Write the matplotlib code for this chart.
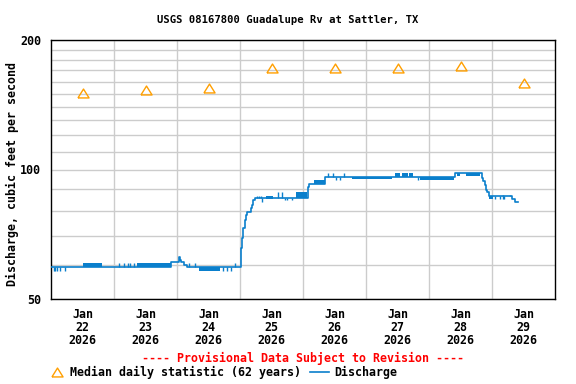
import matplotlib
matplotlib.use('Agg')
import numpy as np
import matplotlib.pyplot as plt
from matplotlib.ticker import FixedLocator, FixedFormatter, NullFormatter
from matplotlib.lines import Line2D

# ---------------- data ----------------
title = "USGS 08167800 Guadalupe Rv at Sattler, TX"
ylabel = "Discharge, cubic feet per second"
day_label_hours = [12, 36, 60, 84, 108, 132, 156, 180]
day_labels = ["Jan\n22\n2026", "Jan\n23\n2026", "Jan\n24\n2026", "Jan\n25\n2026",
              "Jan\n26\n2026", "Jan\n27\n2026", "Jan\n28\n2026", "Jan\n29\n2026"]
midnight_hours = [24, 48, 72, 96, 120, 144, 168]
y_major = [50, 100, 200]
y_minor = [60, 70, 80, 90, 110, 120, 130, 140, 150, 160, 170, 180, 190]

# median daily statistic (hours since Jan 22 00:00)
median_hours = [12, 36, 60, 84, 108, 132, 156, 180]
median_values = [150.8, 153.0, 154.5, 172.6, 172.6, 172.6, 173.6, 159.0]

# discharge: step breakpoints (hours since Jan 22 00:00, cfs)
q_hours = [0.0, 45.75, 48.75, 49.0, 49.5, 50.5, 51.75, 72.5, 72.75, 73.25, 73.75,
           74.25, 74.75, 76.0, 76.5, 77.0, 77.75, 97.75, 98.25, 100.0, 104.5,
           154.0, 164.25, 164.75, 165.25, 165.75, 166.25, 166.75, 175.5, 176.75, 178.0]
q_values = [59.3, 60.9, 62.7, 61.6, 60.9, 60.1, 59.3, 65.6, 69.2, 73.0, 76.3,
            78.4, 79.5, 81.3, 82.7, 84.9, 86.0, 90.9, 92.4, 92.7, 96.3,
            98.0, 95.8, 94.2, 91.9, 89.4, 88.7, 86.6, 85.3, 84.2, 84.2]

# single 15-minute excursions
spike_hours = [1.0, 1.5, 2.25, 3.25, 5.25,
               26.0, 27.75, 29.5, 30.25, 31.5,
               52.75, 55.0, 65.5, 67.0, 68.75, 70.25,
               78.5, 79.25, 80.0, 80.5, 86.5, 88.0, 89.0, 89.75, 91.75,
               105.5, 107.25, 111.5, 108.75, 110.0, 139.75,
               169.25, 171.0, 172.25, 172.75, 172.0, 175.0]
spike_values = [58.0, 58.0, 58.0, 58.0, 58.0,
                60.5, 60.5, 60.5, 60.5, 60.5,
                60.5, 60.5, 58.0, 58.0, 58.0, 60.5,
                87.0, 87.0, 87.0, 84.2, 88.5, 88.5, 84.9, 84.9, 84.9,
                98.0, 98.0, 98.0, 94.5, 94.5, 94.5,
                85.3, 85.3, 85.3, 85.3, 87.2, 87.2]

# periods where the 15-minute values flicker between two readings
band_start = [12.0, 32.75, 56.5, 82.0, 93.5, 100.0, 114.5, 131.0, 133.75, 136.5,
              140.75, 154.5, 158.0, 167.0]
band_end = [19.25, 45.75, 64.5, 84.5, 97.5, 104.5, 129.75, 133.0, 136.0, 138.0,
            153.5, 155.75, 163.5, 168.25]
band_low = [59.3, 59.3, 58.0, 85.3, 86.0, 92.7, 94.8, 96.3, 96.3, 96.3,
            94.5, 96.8, 96.8, 85.3]
band_high = [60.5, 60.5, 59.3, 87.0, 88.5, 94.5, 96.3, 98.0, 98.0, 98.0,
             96.3, 98.0, 98.0, 86.6]

# ---------------- style ----------------
blue = '#0a7fcc'
orange = '#ff9f00'
grid_c = '#cccccc'
font = 'DejaVu Sans Mono'
fs = 8.4

fig = plt.figure(figsize=(5.76, 3.84), dpi=100)
ax = fig.add_axes([51 / 576, 1 - 299 / 384, 504 / 576, 259 / 384])
ax.set_yscale('log')
ax.set_xlim(0, 192)
ax.set_ylim(50, 200)

# grid
ax.yaxis.set_major_locator(FixedLocator(y_major))
ax.yaxis.set_major_formatter(FixedFormatter([str(v) for v in y_major]))
ax.yaxis.set_minor_locator(FixedLocator(y_minor))
ax.yaxis.set_minor_formatter(NullFormatter())
ax.xaxis.set_major_locator(FixedLocator(day_label_hours))
ax.xaxis.set_major_formatter(FixedFormatter(day_labels))
ax.xaxis.set_minor_locator(FixedLocator(midnight_hours))
ax.grid(True, axis='y', which='both', color=grid_c, lw=1.0)
ax.grid(True, axis='x', which='minor', color=grid_c, lw=1.0)
ax.grid(False, axis='x', which='major')
ax.set_axisbelow(True)
ax.tick_params(which='both', length=0)
ax.tick_params(axis='x', pad=6.2)
ax.tick_params(axis='y', pad=7)
for lbl in ax.get_xticklabels() + ax.get_yticklabels():
    lbl.set_fontfamily(font)
    lbl.set_fontweight('bold')
    lbl.set_fontsize(fs)
    lbl.set_linespacing(1.0)
for sp in ax.spines.values():
    sp.set_color('black')
    sp.set_linewidth(1.0)

# discharge
qh = np.array(q_hours)
qv = np.array(q_values)
ax.step(qh, qv, where='post', color=blue, lw=1.2, zorder=3)
for h0, h1, lo, hi in zip(band_start, band_end, band_low, band_high):
    ax.fill_between([h0, h1], [lo, lo], [hi, hi], color=blue, lw=0, zorder=3)
idx = np.searchsorted(qh, np.array(spike_hours), side='right') - 1
spike_base = qv[idx]
ax.vlines(spike_hours, spike_base, spike_values, color=blue, lw=1.0, zorder=3)

# median statistic
tri = [(-1, -0.8), (1, -0.8), (0, 0.8), (-1, -0.8)]
ax.plot(median_hours, median_values, linestyle='none', marker=tri, markersize=8,
        markerfacecolor='none', markeredgecolor=orange, markeredgewidth=1.0, zorder=4)

# texts
fig.text(0.5, 1 - 20 / 384, title, ha='center', va='center', fontfamily=font,
         fontweight='bold', fontsize=7.6)
fig.text(12 / 576, 1 - 174 / 384, ylabel, ha='center', va='center', rotation=90,
         fontfamily=font, fontweight='bold', fontsize=fs)
fig.text(303 / 576, 1 - 358 / 384, "---- Provisional Data Subject to Revision ----",
         ha='center', va='center', color='red', fontfamily=font, fontweight='bold',
         fontsize=fs)

# legend
ly = 1 - 372 / 384
fig.add_artist(Line2D([57 / 576], [ly], transform=fig.transFigure, linestyle='none',
                      marker=tri, markersize=8, markerfacecolor='none',
                      markeredgecolor=orange, markeredgewidth=1.0))
fig.text(70 / 576, ly, "Median daily statistic (62 years)", ha='left', va='center',
         fontfamily=font, fontweight='bold', fontsize=fs)
fig.add_artist(Line2D([310 / 576, 329 / 576], [ly, ly], transform=fig.transFigure,
                      color=blue, lw=1.2))
fig.text(334 / 576, ly, "Discharge", ha='left', va='center',
         fontfamily=font, fontweight='bold', fontsize=fs)

fig.savefig('out.png', dpi=100)
